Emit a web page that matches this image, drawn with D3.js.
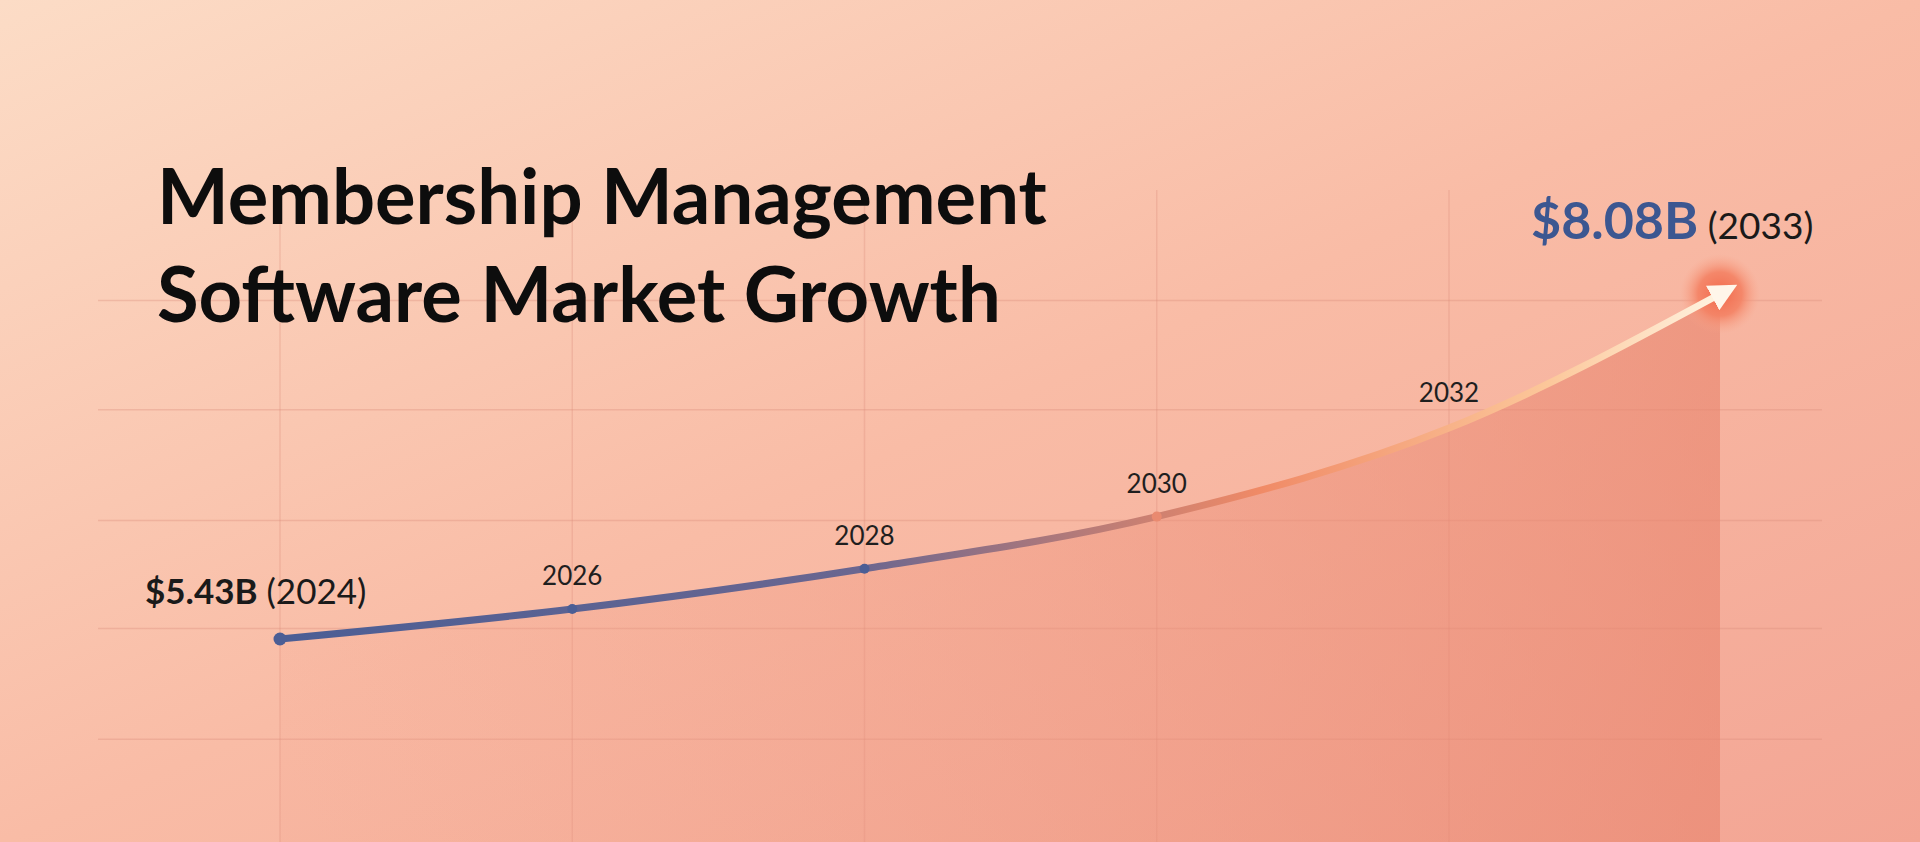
<!DOCTYPE html>
<html>
<head>
<meta charset="utf-8">
<script src="https://cdn.jsdelivr.net/npm/d3@7"></script>
<style>
  html, body { margin: 0; padding: 0; overflow: hidden; }
  body { font-family: Lato, "Open Sans", sans-serif; }
</style>
</head>
<body>
<script>
var width = 1920,
    height = 842;

// data
var years = [2024, 2026, 2028, 2030, 2032, 2033];
var values = [5.43, 5.66, 5.97, 6.37, 7.05, 8.08];
var yearLabels = ["2026", "2028", "2030", "2032"];
var gridYears = [2024, 2026, 2028, 2030, 2032];
var gridValues = [8.03, 7.19, 6.34, 5.51, 4.66];
var titleLines = ["Membership Management", "Software Market Growth"];

// labelled years are evenly spaced, the last year sits a bit closer
var x = d3.scaleLinear().domain([2024, 2032, 2033]).range([280, 1449, 1720]);
var y = d3.scaleLinear().domain([5.43, 8.08]).range([639, 294]);

var data = years.map(function(d, i) { return { year: d, value: values[i] }; });

var svg = d3.select("body").append("svg")
    .attr("width", width)
    .attr("height", height);

var defs = svg.append("defs");

var bg = defs.append("linearGradient").attr("id", "bg")
    .attr("x1", "0%").attr("y1", "0%").attr("x2", "100%").attr("y2", "100%");
bg.append("stop").attr("offset", "0%").attr("stop-color", "#fcdcc6");
bg.append("stop").attr("offset", "50%").attr("stop-color", "#f9bca6");
bg.append("stop").attr("offset", "100%").attr("stop-color", "#f3a594");

var area = defs.append("linearGradient").attr("id", "area")
    .attr("x1", "0%").attr("y1", "0%").attr("x2", "100%").attr("y2", "0%");
area.append("stop").attr("offset", "0%").attr("stop-color", "#f2a08a").attr("stop-opacity", 0.15);
area.append("stop").attr("offset", "100%").attr("stop-color", "#e8836c").attr("stop-opacity", 0.6);

var lineG = defs.append("linearGradient").attr("id", "lineG")
    .attr("gradientUnits", "userSpaceOnUse")
    .attr("x1", x(2024)).attr("y1", 0).attr("x2", x(2033)).attr("y2", 0);
lineG.append("stop").attr("offset", "0%").attr("stop-color", "#4b5e95");
lineG.append("stop").attr("offset", "40%").attr("stop-color", "#6a6690");
lineG.append("stop").attr("offset", "68%").attr("stop-color", "#f08a66");
lineG.append("stop").attr("offset", "88%").attr("stop-color", "#fcc79a");
lineG.append("stop").attr("offset", "100%").attr("stop-color", "#fff3e0");

var glow = defs.append("radialGradient").attr("id", "glow");
glow.append("stop").attr("offset", "0%").attr("stop-color", "#f26a4c");
glow.append("stop").attr("offset", "55%").attr("stop-color", "#f48264").attr("stop-opacity", 0.9);
glow.append("stop").attr("offset", "100%").attr("stop-color", "#f8a68c").attr("stop-opacity", 0);

defs.append("marker").attr("id", "arrow")
    .attr("viewBox", "0 0 10 10").attr("refX", 3).attr("refY", 5)
    .attr("markerWidth", 4).attr("markerHeight", 4)
    .attr("orient", "auto")
  .append("path").attr("d", "M0,0L10,5L0,10z").attr("fill", "#fff6ea");

svg.append("rect").attr("width", width).attr("height", height).attr("fill", "url(#bg)");

// grid
svg.selectAll(".hgrid").data(gridValues).enter().append("line")
    .attr("x1", 98).attr("x2", 1822)
    .attr("y1", function(d) { return y(d); }).attr("y2", function(d) { return y(d); })
    .attr("stroke", "#d98c7c").attr("stroke-opacity", 0.35).attr("stroke-width", 1.5);
svg.selectAll(".vgrid").data(gridYears).enter().append("line")
    .attr("x1", function(d) { return x(d); }).attr("x2", function(d) { return x(d); })
    .attr("y1", 190).attr("y2", height)
    .attr("stroke", "#d98c7c").attr("stroke-opacity", 0.3).attr("stroke-width", 1.5);

// area
svg.append("path").datum(data)
    .attr("fill", "url(#area)")
    .attr("d", d3.area().curve(d3.curveMonotoneX)
        .x(function(d) { return x(d.year); })
        .y0(height).y1(function(d) { return y(d.value); }));

// glow at the end
svg.append("circle").attr("cx", x(2033)).attr("cy", y(8.08))
    .attr("r", 40).attr("fill", "url(#glow)");

// line
svg.append("path").datum(data)
    .attr("fill", "none").attr("stroke", "url(#lineG)")
    .attr("stroke-width", 7).attr("stroke-linecap", "round")
    .attr("marker-end", "url(#arrow)")
    .attr("d", d3.line().curve(d3.curveMonotoneX)
        .x(function(d) { return x(d.year); })
        .y(function(d) { return y(d.value); }));

svg.selectAll(".dot").data(data.slice(0, 4)).enter().append("circle")
    .attr("cx", function(d) { return x(d.year); })
    .attr("cy", function(d) { return y(d.value); })
    .attr("r", function(d, i) { return i === 0 ? 6.5 : 5; })
    .attr("fill", function(d, i) { return i < 3 ? "#4b5e95" : "#e98a70"; });

// year labels
svg.selectAll(".yl").data(yearLabels).enter().append("text")
    .attr("x", function(d) { return x(+d); })
    .attr("y", function(d) {
        var v = values[years.indexOf(+d)];
        return y(v) - (d === "2032" ? 26 : 24);
    })
    .attr("text-anchor", "middle")
    .attr("font-size", 26).attr("fill", "#1f1f1f")
    .text(function(d) { return d; });

// title
svg.append("text").attr("x", 157).attr("y", 224)
    .attr("font-size", 76).attr("font-weight", 700).attr("fill", "#0d0d0d")
  .selectAll("tspan").data(titleLines).enter().append("tspan")
    .attr("x", 157).attr("dy", function(d, i) { return i ? 98 : 0; })
    .text(function(d) { return d; });

// start label
var s = svg.append("text").attr("x", 145).attr("y", 604)
    .attr("font-size", 35).attr("fill", "#1a1a1a");
s.append("tspan").attr("font-weight", 700).text("$" + values[0].toFixed(2) + "B");
s.append("tspan").text(" (" + years[0] + ")");

// end label
var e = svg.append("text").attr("x", 1531).attr("y", 239).attr("fill", "#1a1a1a");
e.append("tspan").attr("font-size", 52).attr("font-weight", 700).attr("fill", "#3c5791")
    .text("$" + values[5].toFixed(2) + "B");
e.append("tspan").attr("font-size", 37).text(" (" + years[5] + ")");
</script>
</body>
</html>
